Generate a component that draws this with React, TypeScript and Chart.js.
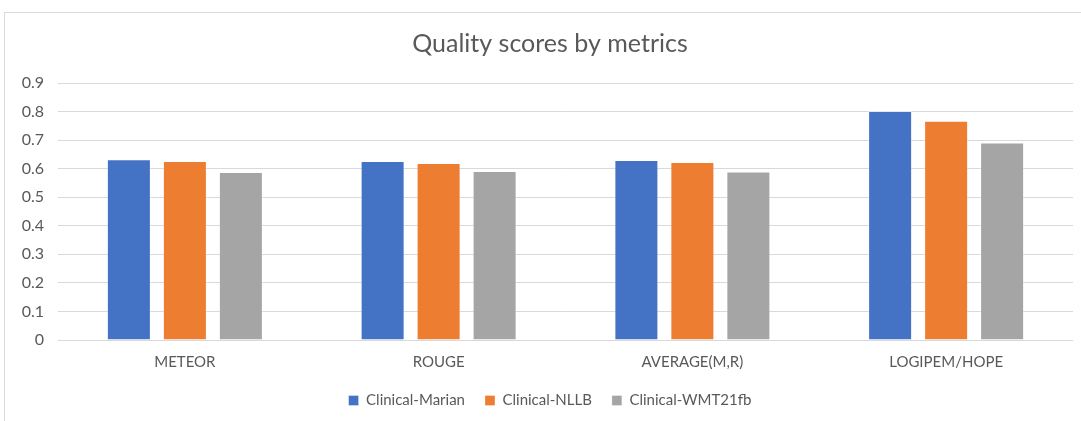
import React, { useEffect, useRef } from "react";
import { Chart, registerables } from "chart.js";

Chart.register(...registerables);

const categories = ["METEOR", "ROUGE", "AVERAGE(M,R)", "LOGIPEM/HOPE"];
const marian = [0.633, 0.627, 0.63, 0.802];
const nllb = [0.627, 0.62, 0.623, 0.768];
const wmt = [0.588, 0.592, 0.59, 0.692];
const seriesNames = ["Clinical-Marian", "Clinical-NLLB", "Clinical-WMT21fb"];
const seriesColors = ["#4472C4", "#ED7D31", "#A5A5A5"];
const titleText = "Quality scores by metrics";

const FONT = "Lato, 'Open Sans', sans-serif";

export default function App() {
  const ref = useRef<HTMLCanvasElement | null>(null);
  useEffect(() => {
    document.body.style.margin = "0";
    const ctx = ref.current!;
    const data = [marian, nllb, wmt];
    const chart = new Chart(ctx, {
      type: "bar",
      data: {
        labels: categories,
        datasets: seriesNames.map((n, i) => ({
          label: n,
          data: data[i],
          backgroundColor: seriesColors[i],
          borderColor: "rgba(255,255,255,0.35)",
          borderWidth: 1,
          barPercentage: 0.786,
          categoryPercentage: 0.662,
        })),
      },
      options: {
        animation: false,
        responsive: false,
        maintainAspectRatio: false,
        layout: { padding: { left: 27, right: 8, top: 0, bottom: 3 } },
        plugins: {
          title: {
            display: true,
            text: titleText,
            color: "#595959",
            font: { family: FONT, size: 25, weight: "normal" },
            padding: { top: 29, bottom: 24 },
          },
          legend: {
            position: "bottom",
            labels: {
              boxWidth: 10,
              boxHeight: 10,
              color: "#595959",
              font: { family: FONT, size: 15 },
              padding: 20,
            },
          },
          tooltip: { enabled: false },
        },
        scales: {
          x: {
            grid: { display: false, drawTicks: false },
            border: { display: false },
            ticks: { color: "#595959", font: { family: FONT, size: 15 }, padding: 13 },
            afterFit: (s: any) => {
              s.height = 33;
            },
          },
          y: {
            min: 0,
            max: 0.9,
            ticks: {
              stepSize: 0.1,
              color: "#595959",
              font: { family: FONT, size: 16 },
              padding: 14,
              callback: (v: any) => String(Math.round(Number(v) * 10) / 10),
            },
            grid: { color: "#d9d9d9", lineWidth: 1, drawTicks: false },
            border: { display: false },
            afterFit: (s: any) => {
              s.width = 31;
              s._computeLabelArea = () => undefined;
            },
          },
        },
      },
    });
    return () => chart.destroy();
  }, []);
  return (
    <div style={{ position: "relative", width: 1081, height: 421, overflow: "hidden", background: "#fff" }}>
      <div
        style={{
          position: "absolute",
          left: 4,
          top: 12,
          width: 1100,
          height: 430,
          border: "1px solid #d9d9d9",
          boxSizing: "border-box",
        }}
      />
      <canvas ref={ref} width={1081} height={421} style={{ position: "absolute", left: 0, top: 0 }} />
    </div>
  );
}
